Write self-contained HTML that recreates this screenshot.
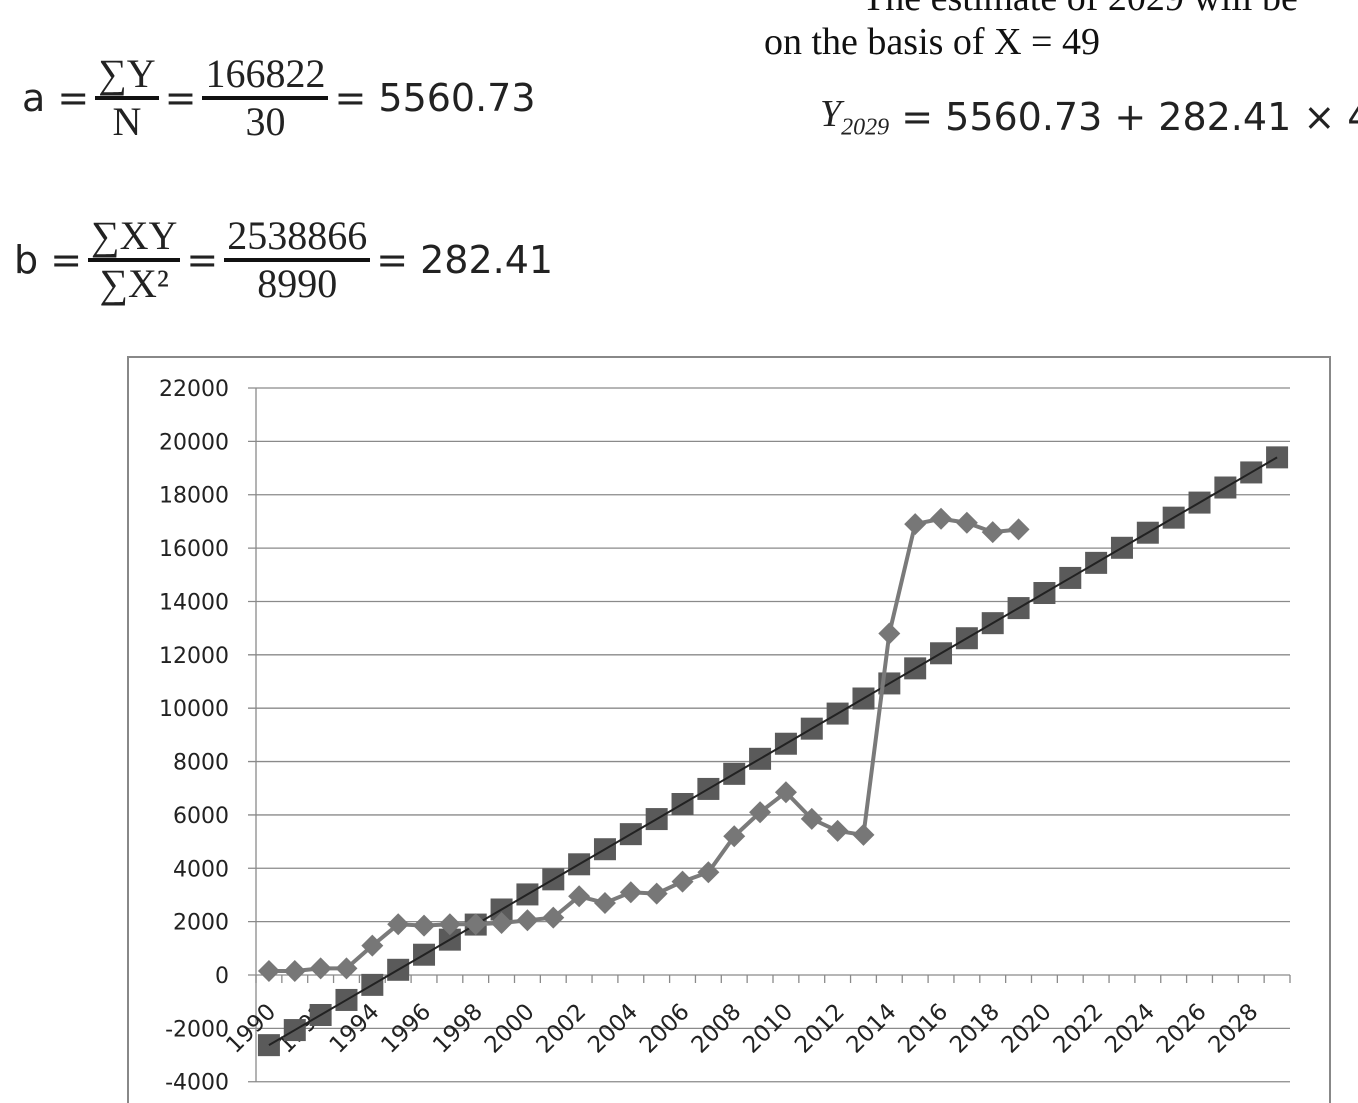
<!DOCTYPE html>
<html><head><meta charset="utf-8"><style>
body{margin:0;width:1358px;height:1103px;overflow:hidden;background:#fff;position:relative;font-family:"Liberation Sans",sans-serif}
.f{position:absolute;font-family:"DejaVu Sans",sans-serif;font-size:38px;color:#222;display:flex;align-items:center;white-space:nowrap}
.fr{display:inline-flex;flex-direction:column;align-items:center;margin:0 6px;font-family:"Liberation Serif",serif;font-size:40px}
.fr span{padding:0 3px;line-height:44px}
.fr .n{border-bottom:4px solid #111}
.t{position:absolute;font-family:"Liberation Serif",serif;font-size:38px;color:#111;white-space:nowrap}
</style></head><body>
<div class="t" style="left:862px;top:-24px">The estimate of 2029 will be</div>
<div class="t" style="left:764px;top:20px">on the basis of X = 49</div>
<div class="f" style="left:820px;top:92px;font-size:38px"><i style="font-family:'Liberation Serif',serif">Y<sub style="font-size:24px">2029</sub></i>&nbsp;= 5560.73 + 282.41 × 49</div>
<div class="f" style="left:22px;top:52px">a =<span class="fr"><span class="n">∑Y</span><span>N</span></span>=<span class="fr"><span class="n">166822</span><span>30</span></span>= 5560.73</div>
<div class="f" style="left:14px;top:214px">b =<span class="fr"><span class="n">∑XY</span><span>∑X²</span></span>=<span class="fr"><span class="n">2538866</span><span>8990</span></span>= 282.41</div>
<svg id="c" width="1358" height="1103" style="position:absolute;left:0;top:0"></svg>
<script>
const years=[];for(let y=1990;y<=2029;y++)years.push(y);
const actual=[150,150,250,250,1100,1900,1850,1900,1900,1950,2050,2150,2950,2700,3100,3050,3500,3850,5200,6100,6850,5850,5400,5250,12800,16900,17100,16950,16600,16700];
const trend=[-2629,-2064,-1499,-935,-370,195,760,1325,1890,2455,3020,3585,4149,4714,5279,5844,6409,6974,7539,8103,8668,9233,9798,10363,10928,11493,12058,12622,13187,13752,14317,14882,15447,16012,16577,17141,17706,18271,18836,19401];
const yTicks=[22000,20000,18000,16000,14000,12000,10000,8000,6000,4000,2000,0,-2000,-4000];
const NS="http://www.w3.org/2000/svg";const svg=document.getElementById('c');
const L=256,R=1290,Y0=975,K=(1081.7-388)/26000;
const xs=i=>L+(R-L)/years.length*(i+0.5);
const ys=v=>Y0-v*K;
function el(t,a,p){const e=document.createElementNS(NS,t);for(const k in a)e.setAttribute(k,a[k]);(p||svg).appendChild(e);return e;}
let fr=el('rect',{x:128,y:357,width:1202,height:760,fill:'none',stroke:'#888','stroke-width':2});


yTicks.forEach(v=>{
 let g=el('line',{x1:L-8,x2:R,y1:ys(v),y2:ys(v),stroke:'#8a8a8a','stroke-width':1.3});
 
 
 let t=el('text',{x:229,y:ys(v)+8,'text-anchor':'end','font-size':22,fill:'#222','font-family':'DejaVu Sans, sans-serif'});t.textContent=v;
 
 
});
let ax=el('line',{x1:L,x2:L,y1:ys(22000),y2:ys(-4000),stroke:'#8a8a8a','stroke-width':1.3});


for(let i=0;i<=years.length;i++){const x=L+(R-L)/years.length*i;let tk=el('line',{x1:x,x2:x,y1:Y0,y2:Y0+8,stroke:'#8a8a8a','stroke-width':1.3});
 
 }
years.forEach((y,i)=>{if(i%2)return;const x=xs(i)+8,yy=Y0+38;
 let t=el('text',{x:x,y:yy,'text-anchor':'end','font-size':23,fill:'#222','font-family':'DejaVu Sans, sans-serif',transform:`rotate(-45 ${x} ${yy})`});t.textContent=y;
 
 });
trend.forEach((v,i)=>{let s=el('rect',{x:xs(i)-11,y:ys(v)-11,width:22,height:22,fill:'#5a5a5a'});
 
 });
let tl=el('polyline',{points:trend.map((v,i)=>xs(i)+','+ys(v)).join(' '),fill:'none',stroke:'#222','stroke-width':2});


let al=el('polyline',{points:actual.map((v,i)=>xs(i)+','+ys(v)).join(' '),fill:'none',stroke:'#7a7a7a','stroke-width':4,'stroke-linejoin':'round'});


actual.forEach((v,i)=>{const x=xs(i),y=ys(v);let d=el('polygon',{points:`${x},${y-11} ${x+11},${y} ${x},${y+11} ${x-11},${y}`,fill:'#777'});
 
 });
</script>
</body></html>
